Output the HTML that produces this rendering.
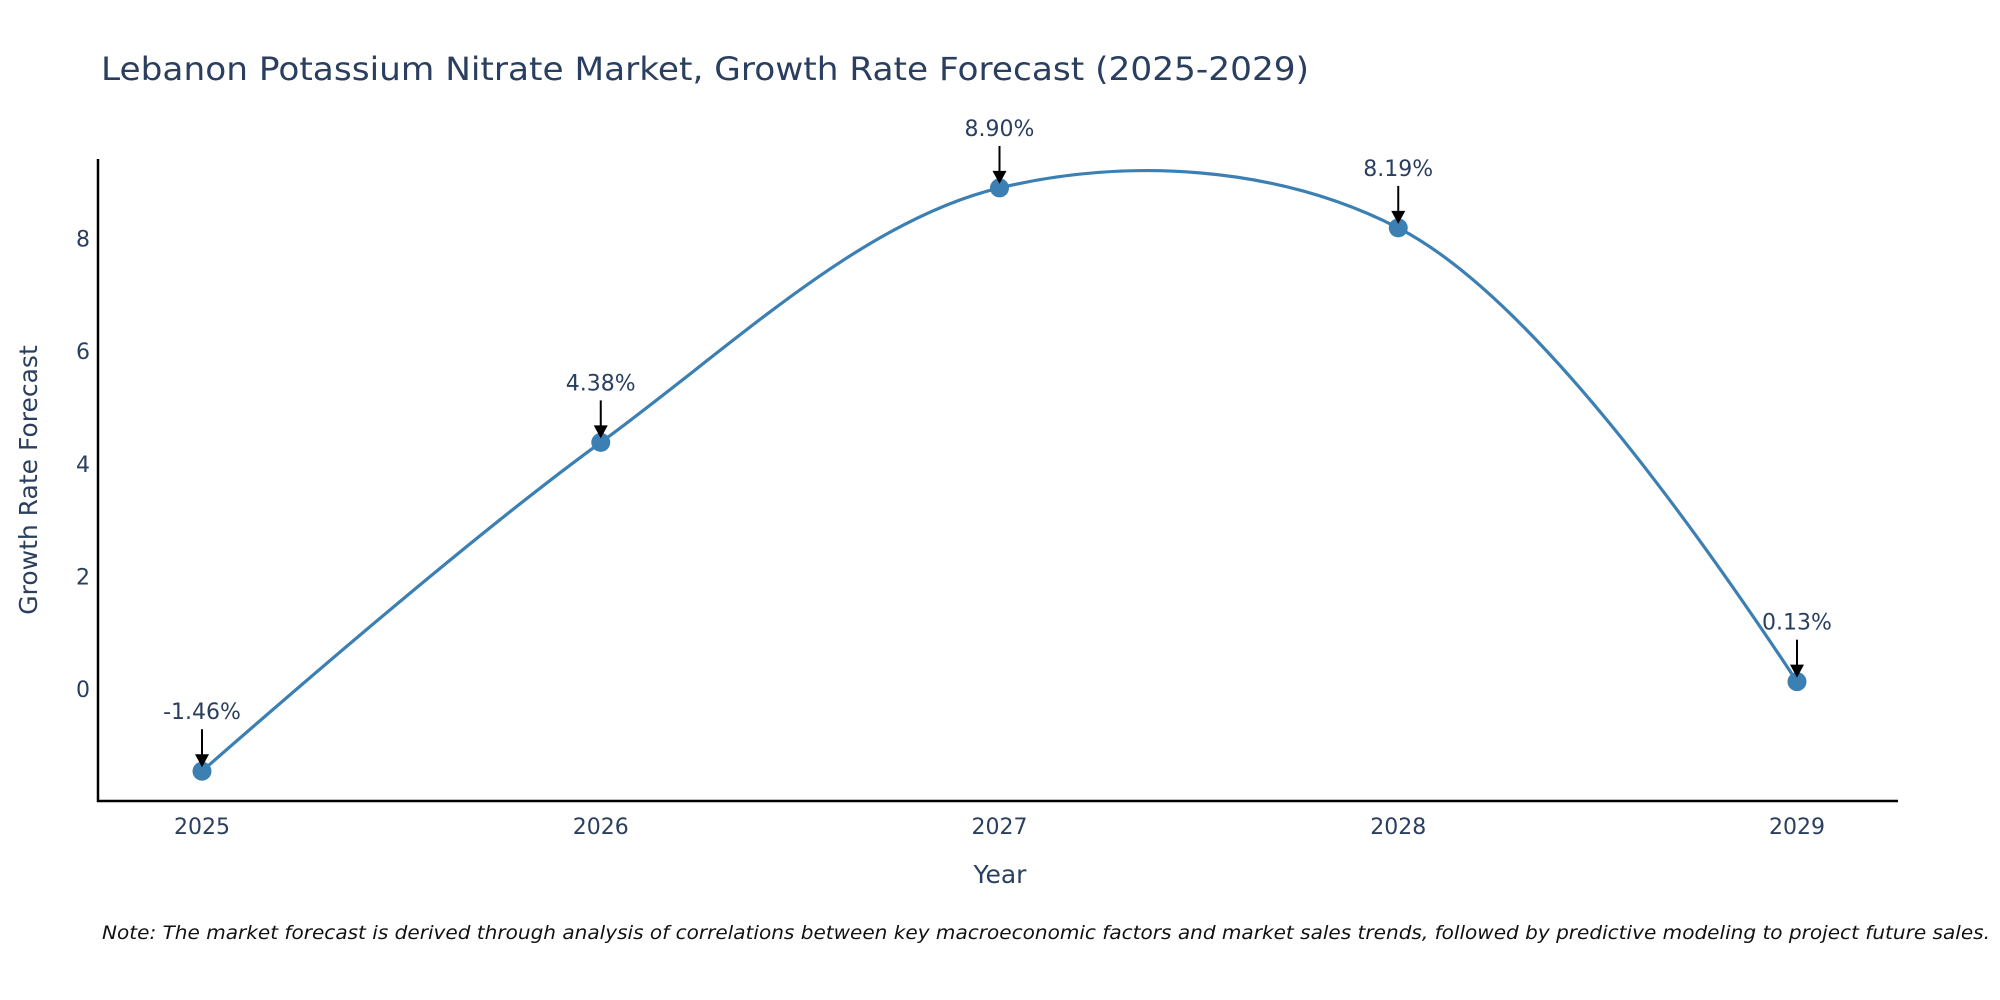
<!DOCTYPE html>
<html><head><meta charset="utf-8"><style>
body{margin:0;background:#fff}
svg{display:block;font-family:"DejaVu Sans","Liberation Sans",sans-serif}
</style></head><body>
<svg id="chart" width="2000" height="1000" viewBox="0 0 2000 1000">
<text x="101" y="80" font-size="32" fill="#2a3f5f" textLength="1208" lengthAdjust="spacingAndGlyphs">Lebanon Potassium Nitrate Market, Growth Rate Forecast (2025-2029)</text>
<g id="yticks"></g>
<g id="xticks"></g>
<path id="curve" fill="none" stroke="#3b7fb3" stroke-width="3.2"></path>
<g id="marks"></g>
<line x1="98" y1="159" x2="98" y2="802" stroke="#000" stroke-width="2.5"/>
<line x1="97" y1="801" x2="1898" y2="801" stroke="#000" stroke-width="2.5"/>
<text x="1000" y="883" font-size="25" fill="#2a3f5f" text-anchor="middle">Year</text>
<text transform="translate(37,480) rotate(-90)" font-size="25" fill="#2a3f5f" text-anchor="middle">Growth Rate Forecast</text>
<text x="102" y="939" font-size="19" font-style="italic" fill="#111" textLength="1888" lengthAdjust="spacingAndGlyphs">Note: The market forecast is derived through analysis of correlations between key macroeconomic factors and market sales trends, followed by predictive modeling to project future sales.</text>
</svg>
<script>
const years = [2025, 2026, 2027, 2028, 2029];
const growth = [-1.46, 4.38, 8.90, 8.19, 0.13];
const labels = ["-1.46%", "4.38%", "8.90%", "8.19%", "0.13%"];
const yTickVals = [0, 2, 4, 6, 8];

const NS = "http://www.w3.org/2000/svg";
const X = v => 202 + (v - 2025) * 398.75;
const Y = v => 689 - v * 56.3;
function mk(tag, attrs, parent){const e=document.createElementNS(NS,tag);for(const k in attrs)e.setAttribute(k,attrs[k]);parent.appendChild(e);return e;}

const yt=document.getElementById('yticks');
yTickVals.forEach(v=>{
  const t=mk('text',{x:90,y:Y(v)+8,'font-size':22,fill:'#2a3f5f','text-anchor':'end'},yt);
  
  
  t.textContent=v;
});
const xt=document.getElementById('xticks');
years.forEach(v=>{
  const t=mk('text',{x:X(v),y:834,'font-size':22,fill:'#2a3f5f','text-anchor':'middle'},xt);
  
  
  t.textContent=v;
});

const pts=years.map((y,i)=>[X(y),Y(growth[i])]);
function tangent(p,c,n,s){
  const d1x=p[0]-c[0],d1y=p[1]-c[1],d2x=n[0]-c[0],d2y=n[1]-c[1];
  const d1a=Math.pow(d1x*d1x+d1y*d1y,0.25),d2a=Math.pow(d2x*d2x+d2y*d2y,0.25);
  const nx=(d2a*d2a*d1x-d1a*d1a*d2x)*s,ny=(d2a*d2a*d1y-d1a*d1a*d2y)*s;
  const e1=3*d2a*(d1a+d2a),e2=3*d1a*(d1a+d2a);
  return [[c[0]+nx/e1,c[1]+ny/e1],[c[0]-nx/e2,c[1]-ny/e2]];
}
const tg=[];
for(let i=1;i<pts.length-1;i++)tg.push(tangent(pts[i-1],pts[i],pts[i+1],1));
let d='M'+pts[0]+'Q'+tg[0][0]+' '+pts[1];
for(let i=2;i<pts.length-1;i++)d+='C'+tg[i-2][1]+' '+tg[i-1][0]+' '+pts[i];
d+='Q'+tg[tg.length-1][1]+' '+pts[pts.length-1];
document.getElementById('curve').setAttribute('d',d);

const mg=document.getElementById('marks');
pts.forEach((p,i)=>{
  const c=mk('circle',{cx:p[0],cy:p[1],r:9.5,fill:'#3b7fb3'},mg);
  
  
  const l=mk('line',{x1:p[0],y1:p[1]-42,x2:p[0],y2:p[1]-16,stroke:'#000','stroke-width':2},mg);
  
  
  const h=mk('polygon',{points:`${p[0]-7},${p[1]-17} ${p[0]+7},${p[1]-17} ${p[0]},${p[1]-4}`,fill:'#000'},mg);
  
  
  const t=mk('text',{x:p[0],y:p[1]-52,'font-size':22,fill:'#2a3f5f','text-anchor':'middle'},mg);
  
  
  t.textContent=labels[i];
});
</script>
</body></html>
